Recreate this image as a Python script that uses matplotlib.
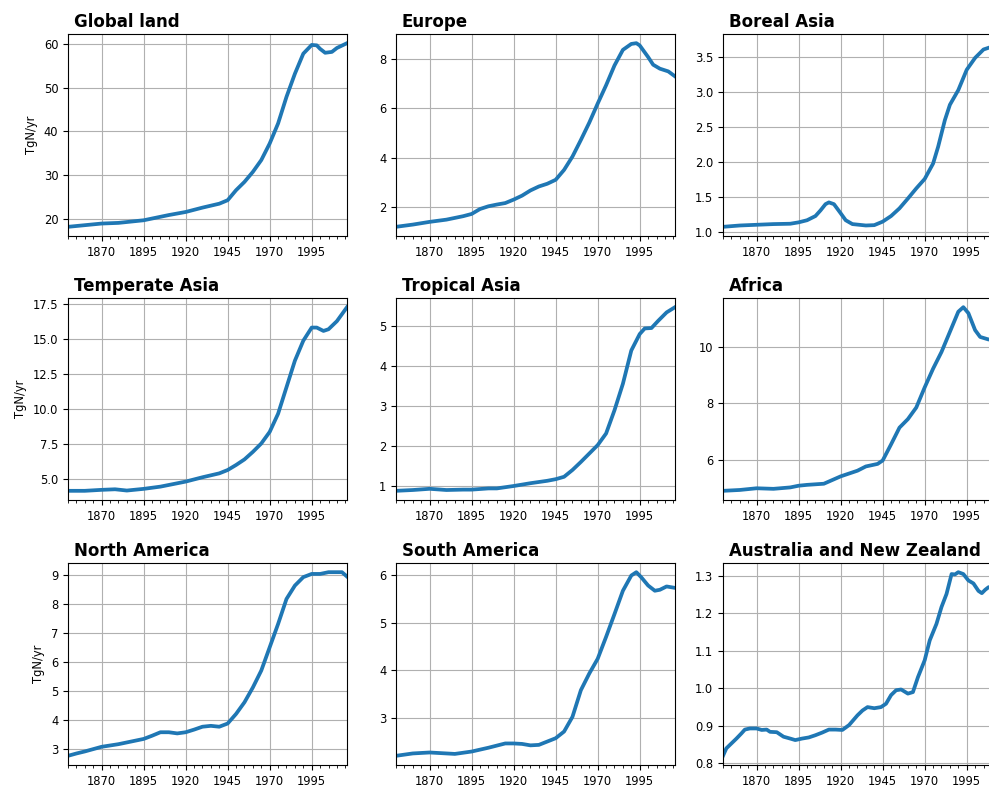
"""
Nitrogen input time series by region, 3x3 panel figure.
"""

import matplotlib
matplotlib.use("Agg")
import matplotlib.pyplot as plt
from matplotlib.ticker import MultipleLocator, MaxNLocator

# Values (TgN/yr)
GLOBAL_YEARS = [1850, 1870, 1880, 1895, 1910, 1920, 1930, 1940, 1945, 1950, 1955,
                1960, 1965, 1970, 1975, 1980, 1985, 1990, 1995, 1998, 2000, 2003,
                2007, 2010, 2016]
GLOBAL_VALS = [18.1, 18.85, 19.0, 19.6, 20.8, 21.5, 22.5, 23.4, 24.2, 26.5, 28.4,
               30.7, 33.4, 37.2, 41.8, 47.9, 53.2, 57.8, 59.8, 59.7, 58.9, 58.0,
               58.2, 59.1, 60.2]

EUROPE_YEARS = [1850, 1860, 1870, 1880, 1890, 1895, 1900, 1905, 1910, 1915, 1920,
                1925, 1930, 1935, 1940, 1945, 1950, 1955, 1960, 1965, 1970, 1975,
                1980, 1985, 1990, 1993, 1995, 2000, 2003, 2007, 2012, 2016]
EUROPE_VALS = [1.21, 1.30, 1.41, 1.50, 1.64, 1.73, 1.93, 2.04, 2.11, 2.17, 2.31,
               2.47, 2.68, 2.84, 2.95, 3.11, 3.51, 4.05, 4.72, 5.42, 6.19, 6.93,
               7.73, 8.36, 8.60, 8.63, 8.54, 8.07, 7.76, 7.60, 7.49, 7.29]

BOREAL_YEARS = [1850, 1860, 1870, 1880, 1890, 1895, 1900, 1905, 1908, 1911, 1913,
                1916, 1920, 1923, 1927, 1935, 1940, 1945, 1950, 1955, 1960, 1965,
                1970, 1975, 1978, 1982, 1985, 1990, 1995, 2000, 2005, 2010, 2016]
BOREAL_VALS = [1.076, 1.095, 1.105, 1.115, 1.12, 1.14, 1.17, 1.23, 1.31, 1.40, 1.425,
               1.40, 1.27, 1.17, 1.115, 1.095, 1.10, 1.15, 1.23, 1.34, 1.48, 1.625,
               1.76, 1.98, 2.22, 2.60, 2.82, 3.03, 3.32, 3.49, 3.61, 3.65, 3.70]

TEMPERATE_YEARS = [1850, 1860, 1870, 1878, 1885, 1895, 1905, 1915, 1920, 1930, 1940,
                   1945, 1950, 1955, 1960, 1965, 1970, 1975, 1980, 1985, 1990, 1995,
                   1998, 2002, 2005, 2010, 2016]
TEMPERATE_VALS = [4.15, 4.15, 4.22, 4.26, 4.17, 4.29, 4.45, 4.69, 4.81, 5.12, 5.40,
                  5.64, 6.0, 6.40, 6.94, 7.54, 8.37, 9.67, 11.57, 13.47, 14.9, 15.84,
                  15.84, 15.6, 15.72, 16.3, 17.3]

TROPICAL_YEARS = [1850, 1860, 1870, 1880, 1890, 1895, 1905, 1910, 1920, 1930, 1940,
                  1945, 1950, 1955, 1960, 1965, 1970, 1975, 1980, 1985, 1990, 1995,
                  1998, 2002, 2006, 2011, 2016]
TROPICAL_VALS = [0.88, 0.90, 0.93, 0.90, 0.91, 0.91, 0.94, 0.94, 1.0, 1.07, 1.13,
                 1.17, 1.23, 1.40, 1.60, 1.81, 2.02, 2.31, 2.89, 3.55, 4.38, 4.79,
                 4.93, 4.94, 5.12, 5.33, 5.46]

AFRICA_YEARS = [1850, 1860, 1870, 1880, 1890, 1895, 1900, 1910, 1920, 1930, 1935,
                1942, 1945, 1950, 1955, 1960, 1965, 1970, 1975, 1980, 1985, 1990,
                1993, 1996, 2000, 2003, 2008, 2016]
AFRICA_VALS = [4.91, 4.94, 5.0, 4.98, 5.03, 5.09, 5.12, 5.16, 5.42, 5.62, 5.77,
               5.86, 5.98, 6.55, 7.14, 7.44, 7.85, 8.56, 9.22, 9.81, 10.52, 11.23,
               11.39, 11.18, 10.58, 10.34, 10.25, 10.3]

NAMERICA_YEARS = [1850, 1855, 1860, 1865, 1870, 1880, 1890, 1895, 1900, 1905, 1910,
                  1915, 1920, 1925, 1930, 1935, 1940, 1945, 1950, 1955, 1960, 1965,
                  1970, 1975, 1980, 1985, 1990, 1995, 2000, 2005, 2010, 2013, 2016]
NAMERICA_VALS = [2.78, 2.86, 2.93, 3.01, 3.09, 3.18, 3.30, 3.36, 3.47, 3.59, 3.59,
                 3.55, 3.59, 3.68, 3.78, 3.81, 3.78, 3.89, 4.22, 4.62, 5.13, 5.71,
                 6.51, 7.31, 8.17, 8.63, 8.92, 9.03, 9.03, 9.09, 9.09, 9.09, 8.94]

SAMERICA_YEARS = [1850, 1860, 1870, 1880, 1885, 1895, 1905, 1915, 1920, 1925, 1930,
                  1935, 1940, 1945, 1950, 1955, 1960, 1965, 1970, 1975, 1980, 1985,
                  1990, 1993, 1996, 2000, 2004, 2007, 2011, 2016]
SAMERICA_VALS = [2.20, 2.25, 2.27, 2.25, 2.24, 2.29, 2.37, 2.46, 2.46, 2.45, 2.42,
                 2.43, 2.50, 2.57, 2.71, 3.02, 3.58, 3.93, 4.24, 4.70, 5.18, 5.67,
                 5.99, 6.06, 5.95, 5.78, 5.67, 5.69, 5.76, 5.73]

AUS_YEARS = [1850, 1852, 1855, 1858, 1861, 1863, 1866, 1870, 1873, 1876, 1878,
             1882, 1886, 1890, 1893, 1897, 1901, 1905, 1909, 1913, 1917, 1921,
             1925, 1930, 1933, 1936, 1940, 1944, 1947, 1950, 1953, 1956, 1960,
             1963, 1966, 1970, 1973, 1977, 1980, 1983, 1986, 1988, 1990, 1993,
             1996, 1999, 2002, 2004, 2006, 2008, 2016]
AUS_VALS = [0.82, 0.84, 0.853, 0.866, 0.88, 0.89, 0.893, 0.893, 0.889, 0.89, 0.884,
            0.883, 0.871, 0.866, 0.862, 0.866, 0.869, 0.875, 0.882, 0.89, 0.89, 0.889,
            0.902, 0.928, 0.941, 0.95, 0.947, 0.95, 0.959, 0.982, 0.995, 0.997, 0.986,
            0.990, 1.03, 1.075, 1.128, 1.172, 1.217, 1.252, 1.305, 1.304, 1.31, 1.305,
            1.288, 1.280, 1.26, 1.254, 1.263, 1.27, 1.27]

TITLES = ["Global land", "Europe", "Boreal Asia",
          "Temperate Asia", "Tropical Asia", "Africa",
          "North America", "South America", "Australia and New Zealand"]
YEARS = [GLOBAL_YEARS, EUROPE_YEARS, BOREAL_YEARS,
         TEMPERATE_YEARS, TROPICAL_YEARS, AFRICA_YEARS,
         NAMERICA_YEARS, SAMERICA_YEARS, AUS_YEARS]
VALUES = [GLOBAL_VALS, EUROPE_VALS, BOREAL_VALS,
          TEMPERATE_VALS, TROPICAL_VALS, AFRICA_VALS,
          NAMERICA_VALS, SAMERICA_VALS, AUS_VALS]
XTICKS = [1870, 1895, 1920, 1945, 1970, 1995]

# Layout in pixels (figure is 989 x 785 at 100 dpi); right column runs off the edge
W, H = 989, 785
COL_LEFT = [68, 396, 723]
ROW_TOP = [34, 298, 563]
AX_W, AX_H = 279, 202


def create_figure():
    fig = plt.figure(figsize=(W / 100, H / 100), dpi=100)

    for i, (title, yrs, vals) in enumerate(zip(TITLES, YEARS, VALUES)):
        row, col = divmod(i, 3)
        left = COL_LEFT[col] / W
        bottom = (H - ROW_TOP[row] - AX_H) / H
        ax = fig.add_axes([left, bottom, AX_W / W, AX_H / H])

        ax.plot(yrs, vals, color="#1f77b4", linewidth=2.7)
        ax.set_xlim(1850, 2016)
        ax.set_xticks(XTICKS)
        ax.xaxis.set_minor_locator(MultipleLocator(5))
        ax.yaxis.set_major_locator(MaxNLocator(nbins=7, steps=[1, 2, 2.5, 5, 10]))
        ax.grid(True, which="major", color="#b0b0b0", linewidth=0.8)
        ax.tick_params(labelsize=8.3)
        ax.set_title(title, loc="left", x=0.02, pad=5,
                     fontsize=12, fontweight="bold")
        if col == 0:
            ax.set_ylabel("TgN/yr", fontsize=8.3)

    fig.savefig("out.png", dpi=100, facecolor="white")
    plt.close(fig)


if __name__ == "__main__":
    create_figure()
